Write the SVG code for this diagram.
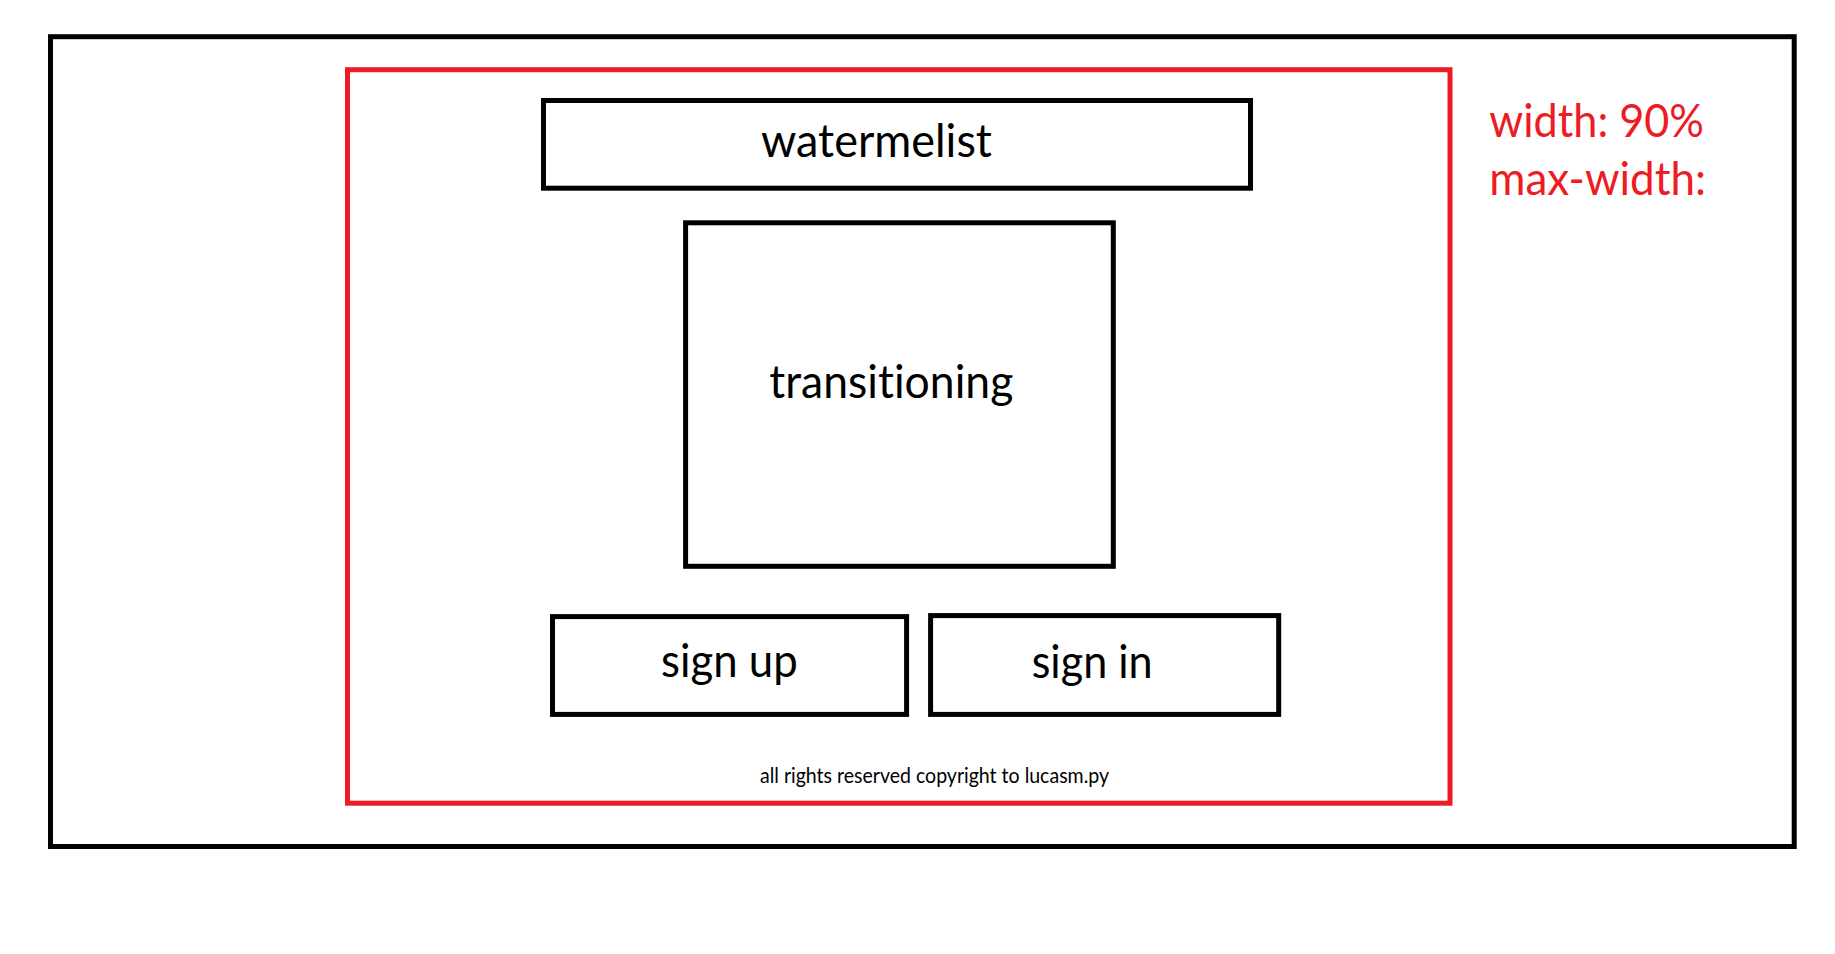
<svg xmlns="http://www.w3.org/2000/svg" width="1835" height="954" viewBox="0 0 1835 954">
  <style>
    .box { fill: none; stroke: #000000; stroke-width: 5; }
    .red { fill: none; stroke: #ED1C24; stroke-width: 5; }
    text { font-variant-ligatures: none; font-feature-settings: "liga" 0, "clig" 0; }
    .lbl { font-family: Lato, "Open Sans", "Liberation Sans", sans-serif; font-size: 46px; fill: #000000; }
    .note { font-family: Lato, "Open Sans", "Liberation Sans", sans-serif; font-size: 46px; fill: #ED1C24; }
    .foot { font-family: Lato, "Open Sans", "Liberation Sans", sans-serif; font-size: 21px; fill: #000000; }
  </style>
  <rect x="0" y="0" width="1835" height="954" fill="#ffffff"/>
  <g id="page">
    <rect class="box" x="50.5" y="36.7" width="1743.7" height="809.8"/>
  </g>
  <g id="container">
    <rect class="red" x="347.5" y="69.7" width="1102.5" height="733.5"/>
  </g>
  <g id="note">
    <text class="note" x="1489.3" y="137" textLength="214.7" lengthAdjust="spacingAndGlyphs">width: 90%</text>
    <text class="note" x="1489.3" y="195" textLength="216.7" lengthAdjust="spacingAndGlyphs">max-width:</text>
  </g>
  <g id="header">
    <rect class="box" x="543.5" y="100.5" width="707" height="87.7"/>
    <text class="lbl" x="761" y="157" textLength="231" lengthAdjust="spacingAndGlyphs">watermelist</text>
  </g>
  <g id="transitioning">
    <rect class="box" x="685.6" y="222.8" width="427.7" height="343.5"/>
    <text class="lbl" x="769.3" y="397.7" textLength="244" lengthAdjust="spacingAndGlyphs">transitioning</text>
  </g>
  <g id="signup">
    <rect class="box" x="552.5" y="616.6" width="354.1" height="97.8"/>
    <text class="lbl" x="661" y="677" textLength="136.7" lengthAdjust="spacingAndGlyphs">sign up</text>
  </g>
  <g id="signin">
    <rect class="box" x="930.6" y="615.6" width="348.1" height="98.8"/>
    <text class="lbl" x="1031.7" y="678.3" textLength="121" lengthAdjust="spacingAndGlyphs">sign in</text>
  </g>
  <g id="footer">
    <text class="foot" x="760" y="782.5" textLength="349" lengthAdjust="spacingAndGlyphs">all rights reserved copyright to lucasm.py</text>
  </g>
  <g id="connectors"></g>
</svg>
